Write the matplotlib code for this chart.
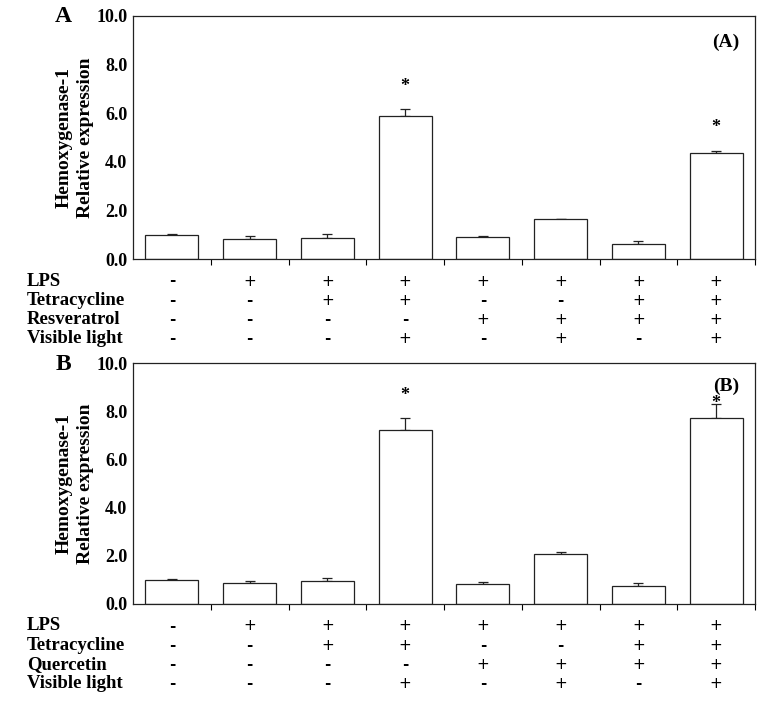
import matplotlib
matplotlib.use("Agg")
import matplotlib.pyplot as plt
import numpy as np

# panel A: resveratrol, panel B: quercetin
valsA = [1.00, 0.84, 0.86, 5.88, 0.92, 1.64, 0.61, 4.37]
errA = [0.03, 0.09, 0.15, 0.30, 0.02, 0.02, 0.14, 0.08]
starsA = [(3, 7.1), (7, 5.4)]

valsB = [1.00, 0.86, 0.95, 7.22, 0.83, 2.07, 0.73, 7.70]
errB = [0.04, 0.08, 0.12, 0.48, 0.07, 0.07, 0.13, 0.58]
starsB = [(3, 8.65), (7, 8.3)]

rowLabelsA = ["LPS", "Tetracycline", "Resveratrol", "Visible light"]
rowLabelsB = ["LPS", "Tetracycline", "Quercetin", "Visible light"]
signs = [
    "-+++++++",
    "--++--++",
    "----++++",
    "---+-+-+",
]

serif = "Liberation Serif"

fig = plt.figure(figsize=(7.67, 7.07), dpi=100)
W, H = 767, 707


def draw_panel(top_px, bottom_px, vals, errs, stars, rowLabels, letter, tag, tag_y):
    ax = fig.add_axes([133 / W, 1 - bottom_px / H, (755 - 133) / W, (bottom_px - top_px) / H])
    x = np.arange(len(vals))
    ax.bar(x, vals, width=0.68, color="white", edgecolor="#222222", linewidth=0.9, zorder=2)
    ax.errorbar(x, vals, yerr=[np.zeros(len(errs)), errs], fmt="none",
                ecolor="#222222", elinewidth=0.9, capsize=3.5, capthick=0.9, zorder=1)
    for i, ys in stars:
        ax.text(i, ys, "*", ha="center", va="center", fontsize=13,
                fontfamily=serif, fontweight="bold")
    ax.set_xlim(-0.5, 7.5)
    ax.set_ylim(0, 10)
    ax.set_yticks(np.arange(0, 10.1, 2))
    ax.set_yticklabels([f"{v:.1f}" for v in np.arange(0, 10.1, 2)])
    ax.set_xticks(np.arange(0.5, 7.6, 1))
    ax.set_xticklabels([])
    ax.tick_params(axis="x", direction="out", length=4, width=0.8)
    ax.tick_params(axis="y", length=0, pad=4)
    for lab in ax.get_yticklabels():
        lab.set_fontfamily(serif)
        lab.set_fontweight("bold")
        lab.set_fontsize(13)
    for s in ax.spines.values():
        s.set_linewidth(0.9)
        s.set_color("#222222")
    ax.set_ylabel("Hemoxygenase-1\nRelative expression", fontfamily=serif,
                  fontweight="bold", fontsize=14, labelpad=2, linespacing=1.3)
    ax.text(0.975, tag_y, tag, transform=ax.transAxes, ha="right", va="center",
            fontfamily=serif, fontweight="bold", fontsize=14)
    fig.text(63 / W, 1 - (top_px + 1) / H, letter, ha="center", va="center",
             fontfamily=serif, fontweight="bold", fontsize=17)

    # treatment table under the axis
    tr = ax.get_xaxis_transform()
    axh = bottom_px - top_px
    for r, (name, row) in enumerate(zip(rowLabels, signs)):
        y_px = bottom_px + 22 + r * 19.3
        fig.text(27 / W, 1 - y_px / H, name, ha="left", va="center",
                 fontfamily=serif, fontweight="bold", fontsize=13.5)
        for i, s in enumerate(row):
            ax.text(i, -(y_px - bottom_px) / axh, s, transform=tr, ha="center",
                    va="center", fontfamily="DejaVu Sans", fontsize=11,
                    fontweight="bold" if s == "-" else "normal")
    return ax


draw_panel(16, 259, valsA, errA, starsA, rowLabelsA, "A", "(A)", 0.89)
draw_panel(363, 604, valsB, errB, starsB, rowLabelsB, "B", "(B)", 0.905)

fig.savefig("out.png", dpi=100)
